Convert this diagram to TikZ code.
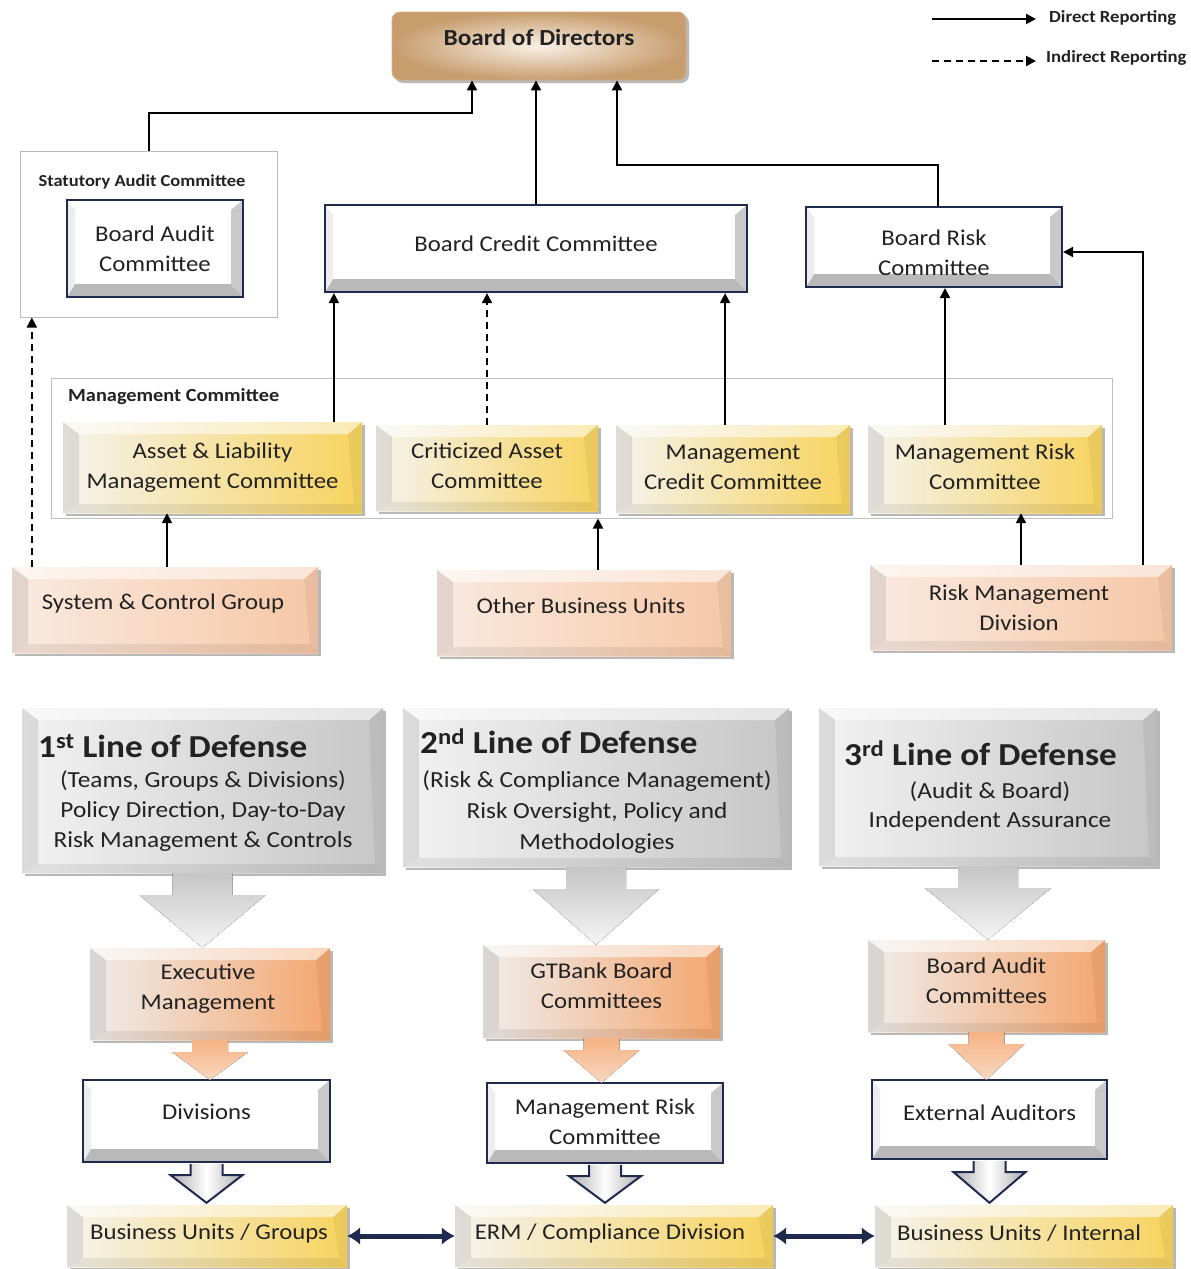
\documentclass[tikz,border=0pt]{standalone}
\usepackage{fontspec}
\setmainfont{Carlito}[FakeStretch=1.1]
\usetikzlibrary{arrows.meta,shapes.misc,shadows,calc}
\definecolor{navy}{HTML}{1F2B4E}
\definecolor{txt}{HTML}{222222}
\definecolor{ylL}{HTML}{F5F3EE}
\definecolor{ylR}{HTML}{F7D35E}
\definecolor{orL}{HTML}{FAEAE0}
\definecolor{orR}{HTML}{F6C7A6}
\definecolor{obL}{HTML}{EFEDEB}
\definecolor{obR}{HTML}{F4A66F}
\definecolor{grL}{HTML}{F2F2F2}
\definecolor{grR}{HTML}{C6C6C6}
\definecolor{tanO}{HTML}{C79D6E}
\definecolor{tanI}{HTML}{FAF0E6}
\tikzset{
  box/.style={inner sep=0pt},
  lbl/.style={font=\fontsize{22.5}{30}\selectfont, text=txt, align=center, inner sep=0pt},
  shd/.style={drop shadow={shadow xshift=3pt, shadow yshift=-3pt, opacity=0.28, fill=black}},
  softbev/.style={path picture={
    \coordinate (pSW) at (path picture bounding box.south west);
    \coordinate (pSE) at (path picture bounding box.south east);
    \coordinate (pNW) at (path picture bounding box.north west);
    \coordinate (pNE) at (path picture bounding box.north east);
    \fill[white,opacity=0.55] (pNW) -- (pNE) -- ([xshift=-14pt,yshift=-12pt]pNE) -- ([xshift=16pt,yshift=-12pt]pNW) -- cycle;
    \fill[gray,opacity=0.2] (pSW) -- (pNW) -- ([xshift=16pt,yshift=-12pt]pNW) -- ([xshift=16pt,yshift=9pt]pSW) -- cycle;
    \fill[black,opacity=0.07] (pSW) -- (pSE) -- ([xshift=-8pt,yshift=9pt]pSE) -- ([xshift=16pt,yshift=9pt]pSW) -- cycle;
    \fill[black,opacity=0.05] (pSE) -- (pNE) -- ([xshift=-14pt,yshift=-12pt]pNE) -- ([xshift=-8pt,yshift=9pt]pSE) -- cycle;
  }},
  yellowbox/.style={box, shd, left color=ylL, right color=ylR, softbev},
  orangebox/.style={box, shd, left color=orL, right color=orR, softbev},
  obox/.style={box, shd, left color=obL, right color=obR, softbev},
  graybox/.style={box, shd, left color=grL, right color=grR, softbev},
  navybev/.style={path picture={
    \coordinate (pSW) at (path picture bounding box.south west);
    \coordinate (pSE) at (path picture bounding box.south east);
    \coordinate (pNW) at (path picture bounding box.north west);
    \coordinate (pNE) at (path picture bounding box.north east);
    \fill[gray!55] (pSW) -- (pSE) -- ([xshift=-12pt,yshift=13pt]pSE) -- ([xshift=8pt,yshift=13pt]pSW) -- cycle;
    \fill[gray!42] (pSE) -- (pNE) -- ([xshift=-12pt,yshift=-10pt]pNE) -- ([xshift=-12pt,yshift=13pt]pSE) -- cycle;
    \fill[gray!14] (pSW) -- (pNW) -- ([xshift=8pt,yshift=-10pt]pNW) -- ([xshift=8pt,yshift=13pt]pSW) -- cycle;
  }},
  navybox/.style={box, draw=navy, line width=2.2pt, fill=white, navybev},
  navychamf/.style={navybox, chamfered rectangle, chamfered rectangle corners={north west,north east}, chamfered rectangle xsep=10pt, chamfered rectangle ysep=10pt},
  frame/.style={box, draw=gray!55, line width=1pt, fill=white},
  dr/.style={-{Triangle[length=10pt,width=10pt]}, line width=2pt, black},
  ir/.style={dr, dash pattern=on 7pt off 5pt},
  bigarr/.style={top color=gray!45, bottom color=gray!8},
  orarr/.style={top color=obR!85!white, bottom color=orR!70!white},
  nvarr/.style={left color=gray!65, right color=gray!65, middle color=white, draw=navy, line width=2pt, line join=miter},
  dbl/.style={{Latex[length=13pt,width=18pt]}-{Latex[length=13pt,width=18pt]}, line width=5pt, navy},
  head/.style={lbl, font=\bfseries\fontsize{32}{36}\selectfont, anchor=west},
}
\begin{document}
\begin{tikzpicture}[x=1pt,y=-1pt]
\useasboundingbox (0,0) rectangle (1191,1269);
\fill[white] (0,0) rectangle (1191,1269);

% legend
\coordinate (lgA1) at (932,19); \coordinate (lgA2) at (1036,19);
\coordinate (lgB1) at (932,61); \coordinate (lgB2) at (1036,61);
\draw[dr] (lgA1) -- (lgA2);
\draw[ir] (lgB1) -- (lgB2);
\node[lbl, font=\bfseries\fontsize{17}{20}\selectfont, anchor=west] (lgT1) at (1049,18) {Direct Reporting};
\node[lbl, font=\bfseries\fontsize{17}{20}\selectfont, anchor=west] (lgT2) at (1046,58) {Indirect Reporting};

% board of directors
\node[box, shd, rounded corners=8pt, draw=tanO!80, line width=0.8pt, inner color=tanI, outer color=tanO, minimum width=294pt, minimum height=68pt,
  label={[lbl, font=\bfseries\fontsize{23}{28}\selectfont, yshift=8pt]center:Board of Directors}] (bod) at (539,46) {};

% statutory audit committee
\node[frame, minimum width=257pt, minimum height=166pt] (sac) at (148.5,234) {};
\node[lbl, font=\bfseries\fontsize{16.8}{20}\selectfont] (sacT) at (142,182) {Statutory Audit Committee};
\node[navychamf, minimum width=176pt, minimum height=97pt, label={[lbl]center:Board Audit\\Committee}] (bac) at (155,248.5) {};

% board committees
\node[navychamf, minimum width=422pt, minimum height=87pt, label={[lbl,yshift=5pt]center:Board Credit Committee}] (bcc) at (536,248.5) {};
\node[navychamf, minimum width=256pt, minimum height=80pt, label={[lbl,yshift=-6pt]center:Board Risk\\Committee}] (brc) at (934,247) {};

% management committee
\node[frame, draw=gray!50, minimum width=1061pt, minimum height=140pt] (mgc) at (581.5,448) {};
\node[lbl, font=\bfseries\fontsize{18.5}{22}\selectfont, anchor=west] (mgcT) at (68,397) {Management Committee};
\node[yellowbox, minimum width=299pt, minimum height=91pt, label={[lbl]center:Asset \& Liability\\Management Committee}] (almc) at (212.5,467.5) {};
\node[yellowbox, minimum width=222pt, minimum height=86pt, label={[lbl,yshift=2pt]center:Criticized Asset\\Committee}] (cac) at (487,468) {};
\node[yellowbox, minimum width=234pt, minimum height=88pt, label={[lbl,yshift=2pt]center:Management\\Credit Committee}] (mcc) at (733,469) {};
\node[yellowbox, minimum width=234pt, minimum height=88pt, label={[lbl,yshift=2pt]center:Management Risk\\Committee}] (mrc) at (985,469) {};

% lower orange
\node[orangebox, minimum width=306pt, minimum height=86pt, label={[lbl,yshift=7pt,xshift=-2pt]center:System \& Control Group}] (scg) at (165,610) {};
\node[orangebox, minimum width=294pt, minimum height=86pt, label={[lbl,yshift=7pt,xshift=-3pt]center:Other Business Units}] (obu) at (584,613) {};
\node[orangebox, minimum width=302pt, minimum height=85pt, label={[lbl,xshift=-2pt]center:Risk Management\\Division}] (rmd) at (1021,607.5) {};

% connectors upper
\draw[dr] (sac.north) -- ++(0,-38) -| ([xshift=-67pt]bod.south);
\draw[dr] (bcc.north) -- (bcc.north |- bod.south);
\draw[dr] ([xshift=4pt]brc.north) -- ++(0,-41) -| ([xshift=78pt]bod.south);
\draw[dr] ([xshift=-29pt]rmd.north east) |- ([yshift=-5pt]brc.east);
\draw[dr] ([xshift=10pt]bcc.south west |- almc.north) -- ([xshift=10pt]bcc.south west);
\draw[ir] (cac.north) -- (cac.north |- bcc.south);
\draw[dr] ([xshift=-23pt]bcc.south east |- mcc.north) -- ([xshift=-23pt]bcc.south east);
\draw[dr] ([xshift=11pt]brc.south |- mrc.north) -- ([xshift=11pt]brc.south);
\draw[dr] ([xshift=2pt]scg.north) -- ([xshift=2pt]scg.north |- almc.south);
\draw[ir] ([xshift=20pt]scg.north west) -- ([xshift=20pt]scg.north west |- sac.south);
\draw[dr] ([xshift=14pt]obu.north) -- ([xshift=14pt]obu.north |- mgc.south);
\draw[dr] (rmd.north) -- (rmd.north |- mrc.south);

% lines of defense
\node[graybox, minimum width=361pt, minimum height=165pt] (L1) at (202.5,790.5) {};
\node[head] (L1h) at (38,746) {1\textsuperscript{st} Line of Defense};
\node[lbl, font=\fontsize{23}{30}\selectfont] (L1t) at (203,811) {(Teams, Groups \& Divisions)\\Policy Direction, Day-to-Day\\Risk Management \& Controls};
\node[graybox, minimum width=386pt, minimum height=159pt] (L2) at (596,787.5) {};
\node[head] (L2h) at (420,741) {2\textsuperscript{nd} Line of Defense};
\node[lbl, font=\fontsize{23}{31}\selectfont] (L2t) at (597,812) {(Risk \& Compliance Management)\\Risk Oversight, Policy and\\Methodologies};
\node[graybox, minimum width=338pt, minimum height=158pt] (L3) at (988,787) {};
\node[head] (L3h) at (844,753) {3\textsuperscript{rd} Line of Defense};
\node[lbl, font=\fontsize{23}{29}\selectfont] (L3t) at (990,806) {(Audit \& Board)\\Independent Assurance};

\node[obox, minimum width=240pt, minimum height=92pt, label={[lbl,yshift=5pt,xshift=-2pt]center:Executive\\Management}] (em) at (210,994) {};
\node[obox, minimum width=237pt, minimum height=93pt, label={[lbl,yshift=6pt]center:GTBank Board\\Committees}] (gbc) at (601.5,991.5) {};
\node[obox, minimum width=237pt, minimum height=92pt, label={[lbl,yshift=5pt]center:Board Audit\\Committees}] (bacs) at (986.5,986) {};

\node[navybox, minimum width=247pt, minimum height=82pt, label={[lbl,yshift=9pt]center:Divisions}] (div) at (206.5,1121) {};
\node[navybox, minimum width=236pt, minimum height=80pt, label={[lbl,yshift=1pt]center:Management Risk\\Committee}] (mrc2) at (605,1123) {};
\node[navybox, minimum width=235pt, minimum height=79pt, label={[lbl,yshift=7pt]center:External Auditors}] (ext) at (989.5,1119.5) {};

\node[yellowbox, minimum width=280pt, minimum height=62pt, label={[lbl,yshift=3pt,xshift=2pt]center:Business Units / Groups}] (bug) at (207,1236) {};
\node[yellowbox, minimum width=318pt, minimum height=62pt, label={[lbl,yshift=3pt,xshift=-4pt]center:ERM / Compliance Division}] (erm) at (614,1236) {};
\node[yellowbox, minimum width=298pt, minimum height=62pt, label={[lbl,yshift=3pt,xshift=-5pt]center:Business Units / Internal}] (bui) at (1024,1236) {};

% block arrows
\foreach \a/\b in {L1/em,L2/gbc,L3/bacs}{
  \fill[bigarr] ([xshift=-30pt]\a.south) -- ([xshift=-30pt,yshift=-22pt]\a.south) -- ([xshift=-63pt,yshift=-22pt]\a.south) -- (\a.south |- \b.north) -- ([xshift=63pt,yshift=-22pt]\a.south) -- ([xshift=30pt,yshift=-22pt]\a.south) -- ([xshift=30pt]\a.south) -- cycle;
}
\foreach \a/\b in {em/div,gbc/mrc2,bacs/ext}{
  \fill[orarr] ([xshift=-18pt]\a.south) -- ([xshift=-18pt,yshift=-12pt]\a.south) -- ([xshift=-38pt,yshift=-12pt]\a.south) -- ([yshift=-1pt]\a.south |- \b.north) -- ([xshift=38pt,yshift=-12pt]\a.south) -- ([xshift=18pt,yshift=-12pt]\a.south) -- ([xshift=18pt]\a.south) -- cycle;
}
\foreach \a/\b in {div/bug,mrc2/erm,ext/bui}{
  \filldraw[nvarr] ([xshift=-16pt,yshift=-1pt]\a.south) -- ([xshift=-16pt,yshift=-12pt]\a.south) -- ([xshift=-36pt,yshift=-12pt]\a.south) -- ([yshift=2pt]\a.south |- \b.north) -- ([xshift=36pt,yshift=-12pt]\a.south) -- ([xshift=16pt,yshift=-12pt]\a.south) -- ([xshift=16pt,yshift=-1pt]\a.south);
}

\draw[dbl] (bug.east) -- (erm.west);
\draw[dbl] (erm.east) -- (bui.west);
\end{tikzpicture}
\end{document}
